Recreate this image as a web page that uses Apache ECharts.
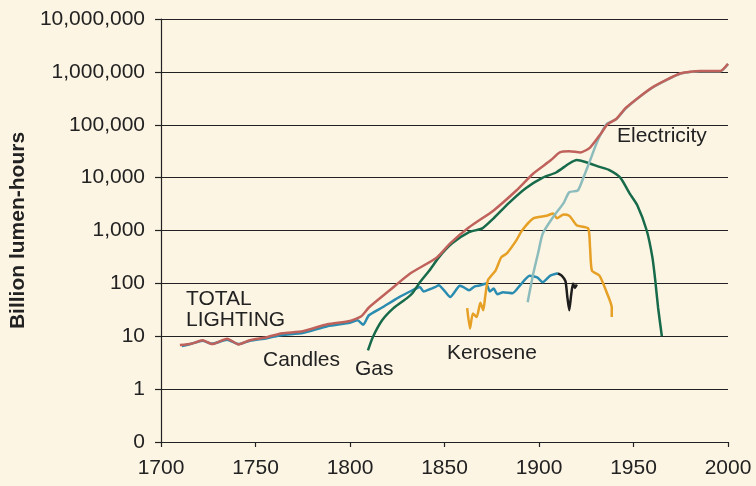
<!DOCTYPE html>
<html lang="en">
<head>
    <meta charset="UTF-8">
    <title>Lighting</title>
    <script src="https://cdn.jsdelivr.net/npm/echarts@6/dist/echarts.min.js"></script>
    <style>
        body { margin: 0; background-color: #fdf5e4; }
        #main { width: 756px; height: 486px; }
    </style>
</head>
<body>
    <div id="main"></div>
    <script>
        // [year, billion lumen-hours]
        let totalLighting = [[1710, 6.8], [1716, 7.2], [1722, 8.4], [1727, 7.1], [1735, 9], [1741, 7], [1747, 8.4],
            [1756, 9.6], [1764, 11.4], [1775, 12.4], [1788, 16.9], [1800, 19.5], [1806, 24], [1810, 35], [1821, 74],
            [1832, 155], [1846, 310], [1853, 570], [1863, 1150], [1876, 2400], [1888, 5700], [1897, 12000],
            [1906, 21000], [1911, 30000], [1916, 31500], [1922, 30000], [1927, 37000], [1933, 70000], [1936, 100000],
            [1941, 130000], [1946, 210000], [1960, 510000], [1975, 940000], [1985, 1040000], [1996, 1040000],
            [2000, 1420000]];
        let candles = [[1711, 6.5], [1716, 7.2], [1722, 8.2], [1727, 7.2], [1735, 8.6], [1741, 7.1], [1747, 8.2],
            [1756, 9.2], [1764, 10.6], [1775, 11.5], [1788, 15.5], [1800, 18], [1804, 20], [1807, 16.5],
            [1810, 25], [1817, 35], [1826, 55], [1833, 74], [1835, 80], [1837, 85], [1839, 70], [1842, 77],
            [1845, 85], [1847, 92], [1850, 72], [1853, 55], [1856, 74], [1858, 90], [1860, 85], [1863, 74],
            [1866, 88], [1869, 92], [1872, 100], [1874, 70], [1876, 80], [1878, 62], [1881, 68], [1886, 65],
            [1890, 92], [1895, 140], [1899, 130], [1902, 105], [1906, 140], [1910, 155]];
        let oil = [[1910, 155], [1912, 140], [1914, 110], [1915, 55], [1916, 31], [1917, 60], [1918, 100],
            [1919, 82], [1920, 95]];
        let gas = [[1809.5, 5.4], [1812, 9.5], [1817, 20], [1823, 34], [1830, 52], [1833, 65], [1837, 105],
            [1842, 175], [1847, 310], [1854, 570], [1863, 930], [1870, 1100], [1876, 1700], [1884, 3300],
            [1893, 6300], [1902, 10000], [1909, 12500], [1916, 18500], [1920, 21500], [1925, 19500],
            [1932, 16000], [1937, 14000], [1943, 10000], [1948, 5000], [1952, 3000], [1957, 1000],
            [1960, 310], [1961.5, 115], [1963, 35], [1965, 10]];
        let kerosene = [[1862, 34], [1863.5, 14], [1865, 27], [1867, 23], [1869, 43], [1870.5, 31], [1871.5, 55],
            [1873, 115], [1877, 175], [1880, 310], [1883, 370], [1888, 650], [1891, 1000], [1897, 1700],
            [1904, 1900], [1907.5, 2100], [1909.5, 1700], [1913, 2000], [1916, 1900], [1918, 1550], [1920, 1250],
            [1926, 1100], [1927, 480], [1928, 175], [1932, 140], [1936, 65], [1938.5, 35], [1938.5, 23]];
        let electricity = [[1894, 44], [1897, 155], [1899.5, 370], [1902, 880], [1907.5, 1800], [1913, 3300],
            [1916, 5300], [1920.5, 5700], [1923, 9000], [1927, 21000], [1931, 50000], [1936, 105000],
            [1941, 128000], [1946, 205000], [1960, 500000], [1975, 930000], [1985, 1030000], [1996, 1030000],
            [2000, 1400000]];

        let yTicks = [0.1, 1, 10, 100, 1000, 10000, 100000, 1000000, 10000000];

        let myChart = echarts.init(document.getElementById('main'));
        let font = 'Liberation Sans, Arial, sans-serif';

        function line(name, data, color, z) {
            return {
                name: name,
                type: 'line',
                data: data,
                showSymbol: false,
                smooth: 0.2,
                z: z,
                lineStyle: { color: color, width: 2.5 }
            };
        }

        function note(text, x, y) {
            return {
                type: 'text', x: x, y: y, z: 10,
                style: { text: text, fill: '#222', font: '21px ' + font, verticalAlign: 'middle' }
            };
        }

        option = {
            backgroundColor: '#fdf5e4',
            animation: false,
            grid: { left: 161, right: 28, top: 19, bottom: 44 },
            xAxis: {
                type: 'value',
                min: 1700,
                max: 2000,
                interval: 50,
                axisLine: { lineStyle: { color: '#222', width: 1.2 } },
                axisTick: { length: 5, lineStyle: { color: '#222', width: 1.2 } },
                splitLine: { show: false },
                axisLabel: { color: '#222', fontSize: 21, fontFamily: font, margin: 16, formatter: v => String(v) }
            },
            yAxis: {
                type: 'log',
                logBase: 10,
                min: yTicks[0],
                max: yTicks[yTicks.length - 1],
                name: 'Billion lumen-hours',
                nameLocation: 'middle',
                nameGap: 129,
                nameTextStyle: { color: '#222', fontSize: 21, fontWeight: 'bold', fontFamily: font },
                axisLine: { show: true, lineStyle: { color: '#222', width: 1.2 } },
                axisTick: { show: true, length: 6, lineStyle: { color: '#222', width: 1.2 } },
                splitLine: { show: true, lineStyle: { color: '#222', width: 1.2 } },
                axisLabel: {
                    color: '#222', fontSize: 21, fontFamily: font, margin: 16,
                    formatter: v => v < 1 ? '0' : Math.round(v).toLocaleString('en-US')
                }
            },
            graphic: [
                note('TOTAL', 186, 299),
                note('LIGHTING', 186, 320),
                note('Candles', 263, 360),
                note('Gas', 355, 369),
                note('Kerosene', 447, 353),
                note('Electricity', 617, 136)
            ],
            series: [
                line('Candles', candles, '#2a8cb0', 3),
                line('Oil', oil, '#1e1e1e', 3),
                line('Kerosene', kerosene, '#e6a025', 3),
                line('Gas', gas, '#176b4a', 4),
                line('Electricity', electricity, '#8dbcbc', 4),
                line('Total lighting', totalLighting, '#c0625c', 5)
            ]
        };

        myChart.setOption(option);
    </script>
</body>
</html>
